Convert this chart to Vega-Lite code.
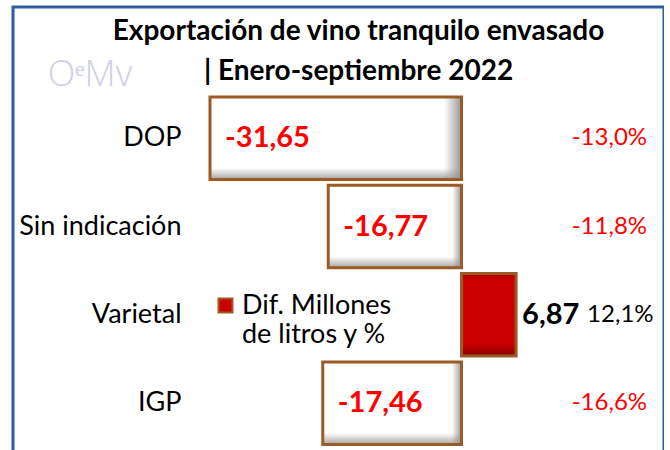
{
  "$schema": "https://vega.github.io/schema/vega-lite/v6.json",
  "width": 651,
  "height": 446,
  "autosize": "none",
  "padding": {"left": 13, "top": 7, "right": 0, "bottom": 0},
  "background": "white",
  "config": {"view": {"stroke": "#2e5c9e", "strokeWidth": 3}, "font": "Lato"},
  "title": {
    "text": ["Exportación de vino tranquilo envasado", "| Enero-septiembre 2022"],
    "font": "Lato", "fontSize": 28, "fontWeight": "bold", "color": "black",
    "anchor": "middle", "frame": "group", "baseline": "top", "offset": -79, "dx": 20, "lineHeight": 40
  },
  "data": {"values": [
    {"cat": "DOP", "dif": -31.65, "label": "-31,65", "pct": "-13,0%", "serie": "Dif. Millones de litros y %"},
    {"cat": "Sin indicación", "dif": -16.77, "label": "-16,77", "pct": "-11,8%", "serie": "Dif. Millones de litros y %"},
    {"cat": "Varietal", "dif": 6.87, "label": "6,87", "pct": "12,1%", "serie": "Dif. Millones de litros y %"},
    {"cat": "IGP", "dif": -17.46, "label": "-17,46", "pct": "-16,6%", "serie": "Dif. Millones de litros y %"}
  ]},
  "encoding": {
    "y": {
      "field": "cat", "type": "nominal", "sort": null,
      "scale": {"paddingInner": 0.066, "paddingOuter": 0.558, "align": 0.913},
      "axis": {"orient": "left", "offset": -171, "domain": false, "ticks": false, "grid": false, "labelPadding": 3,
               "labelFontSize": 27, "labelFont": "Lato", "labelColor": "black", "title": null, "labelLimit": 300}
    }
  },
  "layer": [
    {
      "mark": {"type": "bar"},
      "encoding": {
        "x": {"field": "dif", "type": "quantitative", "scale": {"domain": [-56.44, 25.48], "nice": false, "zero": false}, "axis": null},
        "x2": {"datum": 0},
        "fill": {
          "field": "serie", "type": "nominal",
          "scale": {"range": ["#cc0000"]},
          "condition": {"test": "datum.dif < 0", "value": "white"},
          "legend": {"orient": "none", "legendX": 199, "legendY": 285, "title": null, "padding": 0,
                     "symbolType": "square", "symbolSize": 196, "symbolStrokeColor": "#9c5b25", "symbolStrokeWidth": 2,
                     "labelFontSize": 27, "labelFont": "Lato", "labelColor": "black", "labelLimit": 400, "labelOffset": 3,
                     "labelExpr": "['Dif. Millones', 'de litros y %']"}
        }
      }
    },
    {
      "transform": [{"filter": "datum.dif > 0"}],
      "mark": {"type": "bar", "fill": {"gradient": "linear", "x1": 0, "y1": 0, "x2": 0, "y2": 1,
        "stops": [{"offset": 0, "color": "rgba(120,0,0,0.5)"}, {"offset": 0.1, "color": "rgba(200,0,0,0)"}, {"offset": 0.85, "color": "rgba(120,0,0,0)"}, {"offset": 1, "color": "rgba(90,0,0,0.7)"}]}},
      "encoding": {"x": {"field": "dif", "type": "quantitative"}, "x2": {"datum": 0}}
    },
    {
      "transform": [{"filter": "datum.dif < 0"}],
      "mark": {"type": "bar", "fill": {"gradient": "linear", "x1": 0, "y1": 0, "x2": 1, "y2": 0,
        "stops": [{"offset": 0, "color": "rgba(150,150,150,0)"}, {"offset": 0.93, "color": "rgba(150,150,150,0)"}, {"offset": 1, "color": "rgba(140,140,140,0.9)"}]}},
      "encoding": {"x": {"field": "dif", "type": "quantitative"}, "x2": {"datum": 0}}
    },
    {
      "transform": [{"filter": "datum.dif < 0"}],
      "mark": {"type": "bar", "fill": {"gradient": "linear", "x1": 0, "y1": 0, "x2": 0, "y2": 1,
        "stops": [{"offset": 0, "color": "rgba(150,150,150,0)"}, {"offset": 0.86, "color": "rgba(150,150,150,0)"}, {"offset": 1, "color": "rgba(140,140,140,0.8)"}]}},
      "encoding": {"x": {"field": "dif", "type": "quantitative"}, "x2": {"datum": 0}}
    },
    {
      "mark": {"type": "bar", "fillOpacity": 0, "stroke": "#9c5b25", "strokeWidth": 3},
      "encoding": {"x": {"field": "dif", "type": "quantitative"}, "x2": {"datum": 0}}
    },
    {
      "mark": {"type": "rule", "color": "#a6a6a6", "strokeWidth": 2},
      "encoding": {"x": {"datum": 0}}
    },
    {
      "transform": [{"filter": "datum.dif < 0"}],
      "mark": {"type": "text", "align": "left", "baseline": "middle", "dx": 15, "fontSize": 29, "fontWeight": "bold", "font": "Lato", "color": "#ff0000"},
      "encoding": {"x": {"field": "dif", "type": "quantitative"}, "text": {"field": "label"}}
    },
    {
      "transform": [{"filter": "datum.dif > 0"}],
      "mark": {"type": "text", "align": "left", "baseline": "middle", "dx": 6, "fontSize": 29, "fontWeight": "bold", "font": "Lato", "color": "black"},
      "encoding": {"x": {"field": "dif", "type": "quantitative"}, "text": {"field": "label"}}
    },
    {
      "transform": [{"filter": "datum.dif < 0"}],
      "mark": {"type": "text", "align": "right", "baseline": "middle", "fontSize": 24, "font": "Lato", "color": "#ff0000"},
      "encoding": {"x": {"datum": 23.35}, "text": {"field": "pct"}}
    },
    {
      "transform": [{"filter": "datum.dif > 0"}],
      "mark": {"type": "text", "align": "left", "baseline": "middle", "dx": 71, "fontSize": 24, "font": "Lato", "color": "black"},
      "encoding": {"x": {"field": "dif", "type": "quantitative"}, "text": {"field": "pct"}}
    },
    {
      "data": {"values": [{"logo": "OᵉMv"}]},
      "mark": {"type": "text", "align": "center", "baseline": "middle", "dy": -63, "fontSize": 36, "font": "Open Sans", "fontWeight": 300, "color": "#cdd0e3"},
      "encoding": {"x": {"datum": -46.75}, "y": {"datum": "DOP", "type": "nominal"}, "text": {"field": "logo"}}
    }
  ]
}
